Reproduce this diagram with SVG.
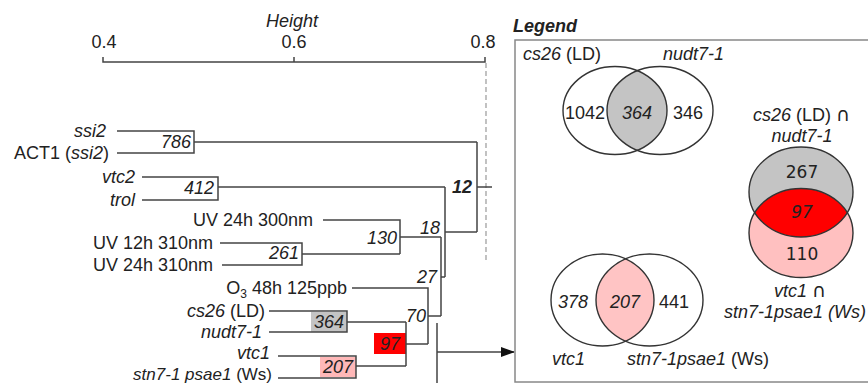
<svg xmlns="http://www.w3.org/2000/svg" width="868" height="383" viewBox="0 0 868 383">
<style>
text{font-family:"Liberation Sans",Arial,sans-serif;font-size:18px;fill:#222}
.i{font-style:italic}
.b{font-weight:bold}
.e{text-anchor:end}
.m{text-anchor:middle}
.cap{font-family:"DejaVu Sans",sans-serif;font-size:19px;font-style:normal}
.ln{fill:none;stroke:#444;stroke-width:1.5}
.dash{fill:none;stroke:#999;stroke-width:1.2;stroke-dasharray:5 3}
.dv{font-family:"DejaVu Sans",Verdana,sans-serif;font-size:17px}
.ven{fill:none;stroke:#333;stroke-width:1.4}
</style>
<defs>
<marker id="arr" markerWidth="14" markerHeight="10" refX="13" refY="5" orient="auto" markerUnits="userSpaceOnUse">
<path d="M0,0 L14,5 L0,10 Z" fill="#111"/>
</marker>
<clipPath id="c1"><ellipse cx="615" cy="110.5" rx="52" ry="44"/></clipPath>
<clipPath id="c2"><ellipse cx="602.5" cy="300" rx="51.5" ry="46"/></clipPath>
<clipPath id="c3"><ellipse cx="801" cy="192" rx="52" ry="45"/></clipPath>
</defs>

<g id="axis">
<text class="i m" x="292" y="27">Height</text>
<text class="m" x="104" y="48">0.4</text>
<text class="m" x="294" y="48">0.6</text>
<text class="m" x="483" y="48">0.8</text>
<path class="ln" d="M103,57 V62 H485 V57 M294,57 V62"/>
<path class="dash" d="M486,63 V262"/>
</g>

<g id="leaf-ssi2"><text class="i e" x="106" y="137">ssi2</text></g>
<g id="leaf-act1"><text class="e" x="109" y="159">ACT1 (<tspan class="i">ssi2</tspan>)</text></g>
<g id="leaf-vtc2"><text class="i e" x="135" y="183">vtc2</text></g>
<g id="leaf-trol"><text class="i e" x="135" y="206">trol</text></g>
<g id="leaf-uv24-300"><text class="e" x="313" y="226">UV 24h 300nm</text></g>
<g id="leaf-uv12-310"><text class="e" x="213" y="249">UV 12h 310nm</text></g>
<g id="leaf-uv24-310"><text class="e" x="213" y="271">UV 24h 310nm</text></g>
<g id="leaf-o3"><text class="e" x="347" y="294">O<tspan font-size="12" dy="4">3</tspan><tspan dy="-4"> 48h 125ppb</tspan></text></g>
<g id="leaf-cs26"><text class="e" x="265" y="317"><tspan class="i">cs26</tspan> (LD)</text></g>
<g id="leaf-nudt7"><text class="i e" x="262" y="338">nudt7-1</text></g>
<g id="leaf-vtc1"><text class="i e" x="270" y="359">vtc1</text></g>
<g id="leaf-stn7"><text class="e" x="272" y="380" style="font-size:17px"><tspan class="i">stn7-1 psae1</tspan> (Ws)</text></g>

<g id="node-786"><text class="i e" x="191" y="148">786</text></g>
<g id="node-412"><text class="i e" x="214" y="194">412</text></g>
<g id="node-261"><text class="i e" x="299" y="259">261</text></g>
<g id="node-364"><rect x="311" y="312" width="36" height="20" fill="#c4c4c4"/><text class="i e" x="344" y="328">364</text></g>
<g id="node-207"><rect x="320" y="357" width="36" height="20" fill="#ffb8b8"/><text class="i e" x="353" y="373">207</text></g>
<g id="node-97"><rect x="374" y="333" width="32" height="21" fill="#ff0000"/><text class="i m" x="390" y="350">97</text></g>
<g id="node-130"><text class="i e" x="397" y="244">130</text></g>
<g id="node-70"><text class="i e" x="426" y="322">70</text></g>
<g id="node-27"><text class="i e" x="437" y="283">27</text></g>
<g id="node-18"><text class="i e" x="440" y="234">18</text></g>
<g id="node-12"><text class="i b e" x="472" y="193">12</text></g>

<g id="connectors">
<path class="ln" d="M117,131 H194 V153 H117 M194,142 H477"/>
<path class="ln" d="M142,177 H218 V200 H142 M218,187 H445"/>
<path class="ln" d="M220,243 H302 V265 H222 M302,254 H400"/>
<path class="ln" d="M323,220 H400 V254 M400,237 H441"/>
<path class="ln" d="M269,311 H347 V332 H269 M347,322 H406"/>
<path class="ln" d="M278,356 H356 V378 H278 M356,366 H406"/>
<path class="ln" d="M406,322 V366 M406,344 H428"/>
<path class="ln" d="M352,288 H428 V344 M428,316 H441"/>
<path class="ln" d="M441,237 V316 M441,277 H445"/>
<path class="ln" d="M445,187 V277 M445,232 H477"/>
<path class="ln" d="M477,142 V232 M477,187 H492"/>
<path class="ln" d="M437,323 V383 M437,352 H514" marker-end="url(#arr)"/>
</g>

<g id="legend">
<text class="i b" x="513" y="32">Legend</text>
<rect x="515" y="40" width="360" height="342" fill="none" stroke="#888" stroke-width="1.5"/>
</g>

<g id="venn-cs26-nudt7">
<ellipse cx="660" cy="110.5" rx="53" ry="44" fill="#c4c4c4" clip-path="url(#c1)"/>
<ellipse class="ven" cx="615" cy="110.5" rx="52" ry="44"/>
<ellipse class="ven" cx="660" cy="110.5" rx="53" ry="44"/>
<text x="523" y="60"><tspan class="i">cs26</tspan> (LD)</text>
<text class="i" x="663" y="60">nudt7-1</text>
<text class="m" x="585" y="119">1042</text>
<text class="i m" x="637" y="119">364</text>
<text class="m" x="688" y="119">346</text>
</g>

<g id="venn-vtc1-stn7">
<ellipse cx="649.5" cy="300" rx="53.5" ry="46" fill="#ffc4c4" clip-path="url(#c2)"/>
<ellipse class="ven" cx="602.5" cy="300" rx="51.5" ry="46"/>
<ellipse class="ven" cx="649.5" cy="300" rx="53.5" ry="46"/>
<text class="i m" x="573" y="308">378</text>
<text class="i m" x="625" y="308">207</text>
<text class="m" x="674" y="308">441</text>
<text class="i" x="552" y="365">vtc1</text>
<text x="627" y="365"><tspan class="i">stn7-1psae1</tspan> (Ws)</text>
</g>

<g id="venn-intersections">
<text x="753" y="121"><tspan class="i">cs26</tspan> (LD) <tspan class="cap">∩</tspan></text>
<text class="i m" x="802" y="142">nudt7-1</text>
<ellipse cx="801" cy="192" rx="52" ry="45" fill="#c4c4c4"/>
<ellipse cx="801" cy="233" rx="52" ry="44.5" fill="#ffc0c0"/>
<ellipse cx="801" cy="233" rx="52" ry="44.5" fill="#ff0000" clip-path="url(#c3)"/>
<ellipse class="ven" cx="801" cy="192" rx="52" ry="45"/>
<ellipse class="ven" cx="801" cy="233" rx="52" ry="44.5"/>
<text class="dv m" x="802" y="178">267</text>
<text class="dv i m" x="802" y="218">97</text>
<text class="dv m" x="802" y="260">110</text>
<text class="m" x="800" y="297"><tspan class="i">vtc1</tspan> <tspan class="cap">∩</tspan></text>
<text class="i e" x="866" y="318">stn7-1psae1 (Ws)</text>
</g>
</svg>
